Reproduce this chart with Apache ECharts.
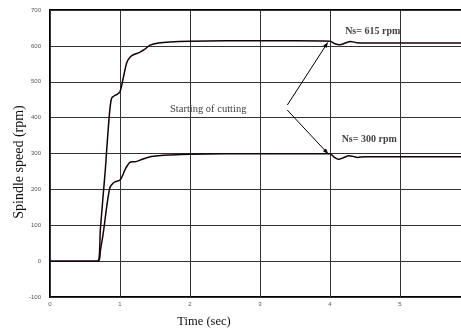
<!DOCTYPE html>
<html>
<head>
<meta charset="utf-8">
<script src="https://cdn.jsdelivr.net/npm/echarts@6/dist/echarts.min.js"></script>
<style>
    html, body { margin: 0; padding: 0; background: #fff; }
    #chart { width: 461px; height: 331px; }
</style>
</head>
<body>
<div id="chart"></div>
<script>
// spindle speed for Ns = 615 rpm
const time615 = [0, 0.68, 0.72, 0.76, 0.79, 0.81, 0.85, 0.88, 0.92, 0.96, 1.0, 1.05, 1.1, 1.15, 1.2, 1.28, 1.35, 1.43, 1.55, 1.71, 2.0, 2.5, 3.0, 3.5, 4.0, 4.07, 4.14, 4.22, 4.29, 4.38, 4.5, 5.0, 6.0];
const speed615 = [0, 0, 90, 185, 254, 310, 412, 454, 461, 465, 472, 514, 555, 570, 576, 582, 590, 602, 608, 611, 613, 614, 614, 614, 613, 606, 603, 608, 612, 609, 608, 608, 608];

// spindle speed for Ns = 300 rpm
const time300 = [0, 0.69, 0.72, 0.76, 0.81, 0.84, 0.86, 0.9, 0.93, 1.0, 1.04, 1.07, 1.11, 1.14, 1.19, 1.24, 1.32, 1.43, 1.55, 1.71, 2.0, 2.5, 3.0, 3.5, 4.0, 4.06, 4.12, 4.2, 4.27, 4.33, 4.39, 4.5, 5.0, 6.0];
const speed300 = [0, 0, 30, 77, 152, 190, 207, 217, 221, 226, 240, 254, 268, 275, 277, 278, 284, 291, 294, 296, 298, 299, 299, 299, 299, 290, 284, 289, 294, 292, 289, 291, 291, 291];

// annotation arrows: [from, to] in (time, rpm)
const arrows = [
    [[3.39, 435], [3.95, 604]],
    [[3.39, 421], [3.95, 304]],
];
const notes = [
    { text: "Starting of cutting", at: [2.26, 424] },
    { text: "Ns= 615 rpm", at: [4.61, 641] },
    { text: "Ns= 300 rpm", at: [4.56, 338] },
];

const pairs = (xs, ys) => xs.map((x, i) => [x, ys[i]]);

const chart = echarts.init(document.getElementById("chart"), null, { renderer: "canvas" });

const lineColor = "#14000c";

const option = {
    animation: false,
    grid: {
        left: 50,
        top: 10,
        width: 420,
        height: 287,
        outerBoundsMode: "none",
        containLabel: false,
        show: true,
        borderColor: "#000",
        borderWidth: 2,
    },
    xAxis: {
        type: "value",
        min: 0,
        max: 6,
        interval: 1,
        axisLine: { show: false },
        axisTick: { show: false },
        axisLabel: {
            fontSize: 6,
            color: "#555",
            margin: 4,
            fontFamily: "Liberation Sans",
        },
        splitLine: { lineStyle: { color: "#333", width: 1 } },
    },
    yAxis: {
        type: "value",
        min: -100,
        max: 700,
        interval: 100,
        axisLine: { show: false },
        axisTick: { show: false },
        axisLabel: {
            fontSize: 6,
            color: "#555",
            margin: 9,
            fontFamily: "Liberation Sans",
        },
        splitLine: { lineStyle: { color: "#333", width: 1 } },
    },
    series: [
        {
            type: "line",
            data: pairs(time615, speed615),
            showSymbol: false,
            smooth: 0.3,
            lineStyle: { color: lineColor, width: 1.5 },
            markLine: {
                silent: true,
                symbol: ["none", "triangle"],
                symbolSize: [4, 6],
                label: { show: false },
                lineStyle: { color: "#000", width: 1, type: "solid" },
                data: arrows.map(([a, b]) => [{ coord: a }, { coord: b }]),
            },
            markPoint: {
                silent: true,
                symbol: "circle",
                symbolSize: 0,
                data: notes.map((n) => ({
                    coord: n.at,
                    label: {
                        show: true,
                        position: "inside",
                        formatter: n.text,
                        fontFamily: "Liberation Serif",
                        fontSize: n.text.startsWith("Ns") ? 10 : 10.5,
                        color: "#444",
                        fontWeight: n.text.startsWith("Ns") ? "bold" : "normal",
                    },
                })),
            },
        },
        {
            type: "line",
            data: pairs(time300, speed300),
            showSymbol: false,
            smooth: 0.3,
            lineStyle: { color: lineColor, width: 1.5 },
        },
    ],
    graphic: [
        {
            type: "text",
            x: 19,
            y: 162,
            rotation: Math.PI / 2,
            style: {
                text: "Spindle speed (rpm)",
                font: "14px 'Liberation Serif'",
                fill: "#111",
                align: "center",
                verticalAlign: "middle",
            },
        },
        {
            type: "text",
            x: 204,
            y: 322,
            style: {
                text: "Time (sec)",
                font: "12.5px 'Liberation Serif'",
                fill: "#111",
                align: "center",
                verticalAlign: "middle",
            },
        },
    ],
};

chart.setOption(option);
</script>
</body>
</html>
